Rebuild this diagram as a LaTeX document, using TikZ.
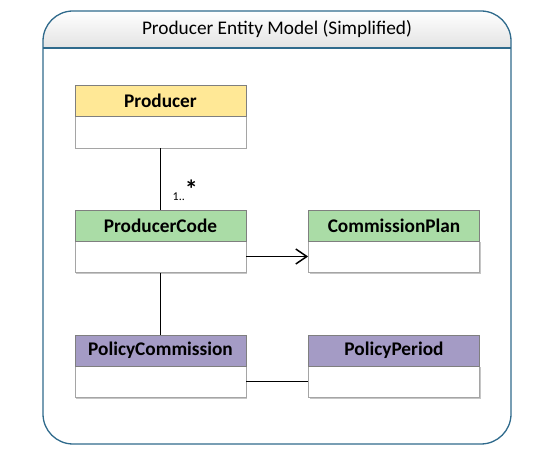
\documentclass[tikz,border=0pt]{standalone}
\usepackage{fontspec}
\setmainfont{Carlito}
\usepackage{tikz}
\usetikzlibrary{positioning,arrows.meta,shadows}
\definecolor{framecol}{HTML}{2F6A8C}
\definecolor{prodcol}{HTML}{FFE896}
\definecolor{codecol}{HTML}{AADCA6}
\definecolor{policol}{HTML}{A49BC5}
\definecolor{edgecol}{HTML}{7F7F7F}

\begin{document}
\begin{tikzpicture}[x=1pt,y=-1pt,
    head/.style={draw=edgecol, line width=0.8pt, minimum width=171pt, minimum height=31pt,
        inner sep=0pt, font=\fontsize{19.3}{21}\selectfont\bfseries},
    body/.style={draw=edgecol!70, line width=0.8pt, fill=white, minimum width=171pt, minimum height=32pt,
        inner sep=0pt, drop shadow={shadow xshift=1.2pt, shadow yshift=-1.2pt, fill=gray!45, opacity=1}},
    link/.style={line width=1.7pt, black}]
            \useasboundingbox (0,0) rectangle (555,454);
            % frame with title bar
            \begin{scope}
            \clip[rounded corners=30pt] (43,11) rectangle (511,444);
            \fill[top color=white, bottom color=gray!22] (43,11) rectangle (511,48);
            \end{scope}
            \draw[framecol, line width=1.3pt, rounded corners=30pt] (43,11) rectangle (511,444);
            \draw[framecol, line width=1.3pt] (43,48) -- (511,48);
            \node[font=\fontsize{19.3}{21}\selectfont](title) at (277,29){Producer Entity Model (Simplified)};
            % classes
            \node[body](prb) at (160.5,132){};
            \node[head, fill=prodcol](pr) at (160.5,100.5){Producer};
            \node[body](pcb) at (160.5,256.5){};
            \node[head, fill=codecol](pc) at (160.5,225.5){ProducerCode};
            \node[body](cpb) at (394,256.5){};
            \node[head, fill=codecol](cp) at (394,225.5){CommissionPlan};
            \node[body](pmb) at (160.5,381.5){};
            \node[head, fill=policol](pm) at (160.5,350.5){PolicyCommission};
            \node[body](ppb) at (394,381.5){};
            \node[head, fill=policol](pp) at (394,350.5){PolicyPeriod};
            % associations
            \draw[link] (prb.south) -- (pc.north);
            \node[anchor=south west, inner sep=0pt, font=\fontsize{12}{13}\selectfont](mult) at ([xshift=12pt,yshift=9pt]pc.north)
                {1..\raisebox{2pt}{\fontsize{26}{26}\selectfont\bfseries *}};
            \draw[link, -{Straight Barb[length=11pt, width=15pt, line width=1.5pt]}] (pcb.east) -- (cpb.west);
            \draw[link] (pcb.south) -- (pm.north);
            \draw[link] (pmb.east) -- (ppb.west);
\end{tikzpicture}
\end{document}
